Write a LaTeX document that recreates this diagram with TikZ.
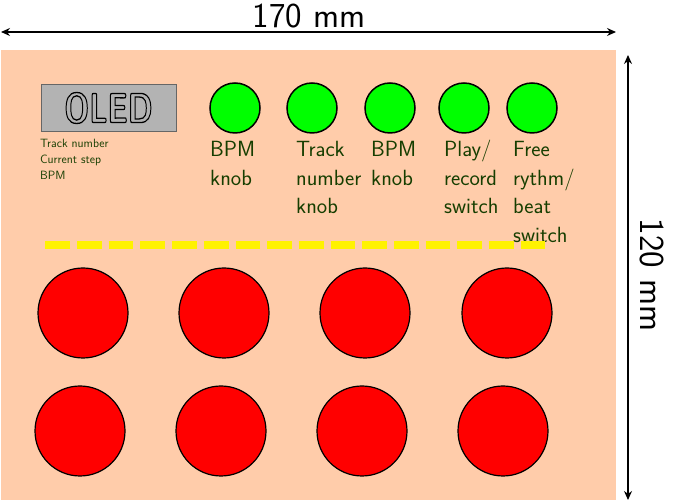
\documentclass[tikz,border=0pt]{standalone}
\usepackage{tikz}
\usetikzlibrary{positioning, arrows.meta}
\renewcommand{\familydefault}{\sfdefault}

\definecolor{board}{RGB}{255,204,170}
\definecolor{oledgray}{RGB}{179,179,179}
\definecolor{oledframe}{RGB}{102,102,102}
\definecolor{labelgreen}{RGB}{22,62,0}

% outlined text (stroke only)
\newcommand{\hollowtext}[1]{\special{pdf:code q 1 Tr 1.3 w 0 0 0 RG}#1\special{pdf:code Q}}

\tikzset{
    knob/.style={circle, draw, line width=1.5pt, fill=green, minimum size=50pt, inner sep=0pt},
    pad/.style={circle, draw, line width=1.2pt, fill=red, minimum size=90pt, inner sep=0pt},
    knoblabel/.style={anchor=base west, align=left, inner sep=0pt, text=labelgreen,
        font=\fontsize{22}{28.5}\selectfont},
    infolabel/.style={anchor=base west, align=left, inner sep=0pt, text=labelgreen,
        font=\fontsize{12}{16}\selectfont},
    dimension/.style={line width=1.3pt, {Stealth[length=9pt,width=8pt]}-{Stealth[length=9pt,width=8pt]}},
    dimtext/.style={inner sep=0pt, font=\fontsize{35}{35}\selectfont}
}

\begin{document}
\begin{tikzpicture}[x=1pt, y=-1pt]
            \useasboundingbox (0,0) rectangle (673,502);

            % front panel
            \node[fill=board, minimum width=615pt, minimum height=450pt, inner sep=0pt, anchor=north west] (panel) at (1,49.5) {};

            % display
            \node[draw=oledframe, line width=1pt, fill=oledgray, minimum width=135pt, minimum height=47pt, inner sep=0pt, anchor=north west] (oled) at (40.5,84) {};
            \node[text=oledgray] (oledtext) at (oled.center) {\scalebox{0.75}[1]{\fontsize{42}{42}\selectfont\bfseries\hollowtext{OLED}}};
            % base anchor sits on the last line
            \node[infolabel] (info) at (40,180) {Track number\\Current step\\BPM};

            % knobs and switches
            \node[knob] (k1) at (235,108) {};
            \node[knob] (k2) at (312,108) {};
            \node[knob] (k3) at (390,108) {};
            \node[knob] (k4) at (464,108) {};
            \node[knob] (k5) at (532,108) {};

            \node[knoblabel] (l1) at (210,185.5) {BPM\\knob};
            \node[knoblabel] (l2) at (296,214) {Track\\number\\knob};
            \node[knoblabel] (l3) at (371,185.5) {BPM\\knob};
            \node[knoblabel] (l4) at (444,214) {Play/\\record\\switch};
            \node[knoblabel] (l5) at (513,242.5) {Free\\rythm/\\beat\\switch};

            % led strip
            \coordinate (s1) at (45.3,245);
            \coordinate (s2) at (545,245);
            \draw[yellow, line width=8pt, dash pattern=on 24.7pt off 7pt] (s1) -- (s2);

            % pads
            \node[pad] (p1) at (83,313) {};
            \node[pad] (p2) at (224,313) {};
            \node[pad] (p3) at (365,313) {};
            \node[pad] (p4) at (507,313) {};
            \node[pad] (p5) at (80,431) {};
            \node[pad] (p6) at (221,431) {};
            \node[pad] (p7) at (362,431) {};
            \node[pad] (p8) at (503,431) {};

            % dimensions
            \coordinate (w1) at (1,32);
            \coordinate (w2) at (616,32);
            \coordinate (h1) at (628,55);
            \coordinate (h2) at (628,500);
            \draw[dimension] (w1) -- (w2);
            \draw[dimension] (h1) -- (h2);
            \node[dimtext, anchor=base] (wtext) at (309,28) {170 mm};
            \node[dimtext, rotate=-90] (htext) at (652,275) {120 mm};
        \end{tikzpicture}
\end{document}
